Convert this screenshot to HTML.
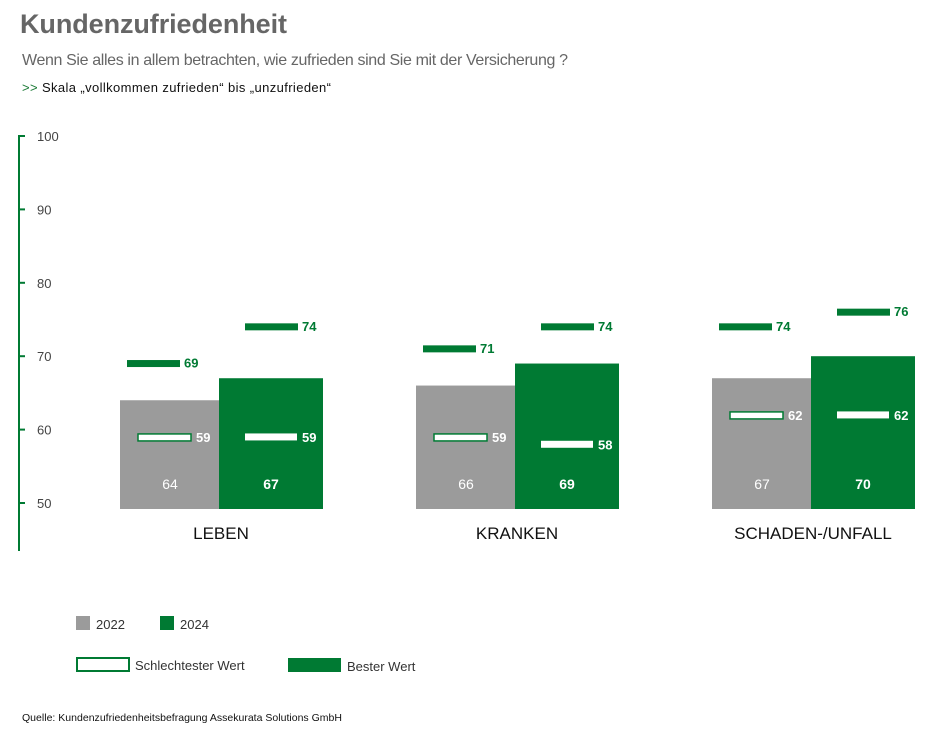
<!DOCTYPE html>
<html><head><meta charset="utf-8"><style>
body{margin:0;background:#fff;}
svg{display:block;font-family:"Liberation Sans",sans-serif;}
</style></head><body>
<svg id="chart" width="942" height="743" viewBox="0 0 942 743">
<text x="20" y="33" font-size="27" font-weight="bold" fill="#666" textLength="267">Kundenzufriedenheit</text>
<text x="22" y="65" font-size="16" fill="#666" textLength="546">Wenn Sie alles in allem betrachten, wie zufrieden sind Sie mit der Versicherung ?</text>
<text x="22" y="92" font-size="13" fill="#111" textLength="309"><tspan fill="#1a7a35">&gt;&gt;</tspan> Skala „vollkommen zufrieden“ bis „unzufrieden“</text>
<g id="axis"></g>
<g id="bars"></g>
<g>
<rect x="76" y="616" width="14" height="14" fill="#9b9b9b"/>
<text x="96" y="629" font-size="13" fill="#333">2022</text>
<rect x="160" y="616" width="14" height="14" fill="#007a33"/>
<text x="180" y="629" font-size="13" fill="#333">2024</text>
<rect x="77" y="658" width="52" height="13" fill="#fff" stroke="#007a33" stroke-width="2"/>
<text x="135" y="670" font-size="13" fill="#333">Schlechtester Wert</text>
<rect x="288" y="658" width="53" height="14" fill="#007a33"/>
<text x="347" y="671" font-size="13" fill="#333">Bester Wert</text>
</g>
<text x="22" y="721" font-size="10.5" fill="#111" textLength="320">Quelle: Kundenzufriedenheitsbefragung Assekurata Solutions GmbH</text>
</svg>
<script>
const categories = ["LEBEN", "KRANKEN", "SCHADEN-/UNFALL"];
const values2022 = [64, 66, 67];
const values2024 = [67, 69, 70];
const worst2022 = [59, 59, 62];
const worst2024 = [59, 58, 62];
const best2022 = [69, 71, 74];
const best2024 = [74, 74, 76];
const yTicks = [50, 60, 70, 80, 90, 100];

const NS = "http://www.w3.org/2000/svg";
const GREEN = "#007a33", GRAY = "#9b9b9b";
const y = v => 503 - (v - 50) * 7.34;
const baseY = 509;
const groupLeft = i => 120 + i * 296;
function mk(parent, tag, attrs, txt) {
  const e = document.createElementNS(NS, tag);
  for (const k in attrs) e.setAttribute(k, attrs[k]);
  if (txt !== undefined) e.textContent = txt;
  parent.appendChild(e);
  return e;
}
const axis = document.getElementById('axis');
const axLine = mk(axis, 'line', {x1: 19, x2: 19, y1: y(100), y2: 551, stroke: GREEN, 'stroke-width': 2});


yTicks.forEach(t => {
  const tk = mk(axis, 'line', {x1: 18, x2: 25, y1: y(t), y2: y(t), stroke: GREEN, 'stroke-width': 2});
  
  
  const lb = mk(axis, 'text', {x: 37, y: y(t) + 5, 'font-size': 13, fill: '#444'}, String(t));
  
  
});
const bars = document.getElementById('bars');
categories.forEach((c, i) => {
  const gx = groupLeft(i);
  const g = mk(bars, 'g', {});
  
  
  // 2022 bar
  const b1 = mk(g, 'rect', {x: gx, y: y(values2022[i]), width: 100, height: baseY - y(values2022[i]), fill: GRAY});
  
  
  const b2 = mk(g, 'rect', {x: gx + 99, y: y(values2024[i]), width: 104, height: baseY - y(values2024[i]), fill: GREEN});
  
  
  const v1 = mk(g, 'text', {x: gx + 50, y: baseY - 20, 'font-size': 14, fill: '#fff', 'text-anchor': 'middle'}, values2022[i]);
  
  
  const v2 = mk(g, 'text', {x: gx + 151, y: baseY - 20, 'font-size': 14, fill: '#fff', 'text-anchor': 'middle', 'font-weight': 'bold'}, values2024[i]);
  
  
  // worst markers
  const w1 = mk(g, 'rect', {x: gx + 18, y: y(worst2022[i]) - 3, width: 53, height: 7, fill: '#fff', stroke: GREEN, 'stroke-width': 1.5});
  
  
  const wl1 = mk(g, 'text', {x: gx + 76, y: y(worst2022[i]) + 5, 'font-size': 13, fill: '#fff', 'font-weight': 'bold'}, worst2022[i]);
  
  
  const w2 = mk(g, 'rect', {x: gx + 125, y: y(worst2024[i]) - 3.5, width: 52, height: 7, fill: '#fff'});
  
  
  const wl2 = mk(g, 'text', {x: gx + 182, y: y(worst2024[i]) + 5, 'font-size': 13, fill: '#fff', 'font-weight': 'bold'}, worst2024[i]);
  
  
  // best markers
  const bm1 = mk(g, 'rect', {x: gx + 7, y: y(best2022[i]) - 3.5, width: 53, height: 7, fill: GREEN});
  
  
  const bl1 = mk(g, 'text', {x: gx + 64, y: y(best2022[i]) + 4, 'font-size': 13, fill: GREEN, 'font-weight': 'bold'}, best2022[i]);
  
  
  const bm2 = mk(g, 'rect', {x: gx + 125, y: y(best2024[i]) - 3.5, width: 53, height: 7, fill: GREEN});
  
  
  const bl2 = mk(g, 'text', {x: gx + 182, y: y(best2024[i]) + 4, 'font-size': 13, fill: GREEN, 'font-weight': 'bold'}, best2024[i]);
  
  
  const cl = mk(g, 'text', {x: gx + 101, y: 539, 'font-size': 17, fill: '#111', 'text-anchor': 'middle'}, c);
  
  
});
</script>
</body></html>
